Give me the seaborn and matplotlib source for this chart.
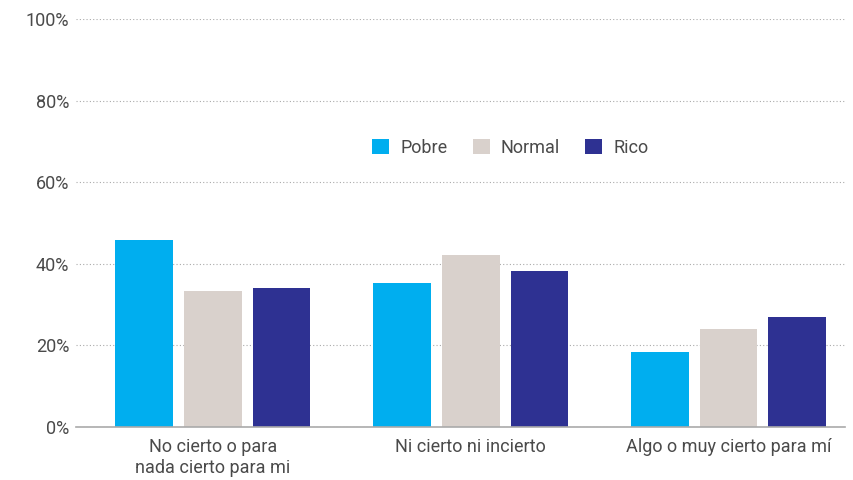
import pandas as pd
import numpy as np
import matplotlib.pyplot as plt
import seaborn as sns
import matplotlib.ticker as mticker

# data
categories = ["No cierto o para\nnada cierto para mi", "Ni cierto ni incierto", "Algo o muy cierto para mí"]
groups = ["Pobre", "Normal", "Rico"]
pobre = [45.9, 35.3, 18.5]
normal = [33.3, 42.2, 24.0]
rico = [34.1, 38.3, 26.9]
colors = ["#00AEEF", "#D9D1CC", "#2E3192"]

df = pd.DataFrame({
    "cat": categories * 3,
    "group": [g for g in groups for _ in categories],
    "value": pobre + normal + rico,
})

sns.set_theme(style="white")
plt.rcParams['font.family'] = ['Roboto', 'DejaVu Sans']
plt.rcParams['font.weight'] = 'normal'
txt = "#4a4a4a"
fs = 13

fig = plt.figure(figsize=(8.54, 4.8), dpi=100)
ax = fig.add_axes([0.089, 0.1104, 0.9, 0.85])

sns.barplot(data=df, x="cat", y="value", hue="group", order=categories, hue_order=groups,
            palette=colors, width=0.8, gap=0.16, saturation=1, ax=ax, linewidth=0)

ax.set_ylim(0, 100)
ax.set_xlim(-0.53, 2.45)
ax.set_yticks([0, 20, 40, 60, 80, 100])
ax.yaxis.set_major_formatter(mticker.FuncFormatter(lambda v, p: f"{int(v)}%"))
ax.grid(axis="y", color="#AAAAAA", linestyle=(0, (1, 2)), linewidth=0.8)
ax.set_axisbelow(True)
for s in ["top", "right", "left"]:
    ax.spines[s].set_visible(False)
ax.spines["bottom"].set_color("#AAAAAA")
ax.spines["bottom"].set_linewidth(1.2)
ax.tick_params(axis="both", length=0, labelsize=fs, labelcolor=txt)
ax.tick_params(axis="y", pad=5)
ax.tick_params(axis="x", pad=8)
ax.set_xlabel("")
ax.set_ylabel("")

handles, labels = ax.get_legend_handles_labels()
ax.legend(handles, labels, loc="center", bbox_to_anchor=(0.565, 0.685), ncol=3, frameon=False,
          fontsize=fs, labelcolor=txt, handlelength=0.95, handleheight=0.95,
          handletextpad=0.6, columnspacing=1.4)

fig.savefig("out.png", dpi=100)
